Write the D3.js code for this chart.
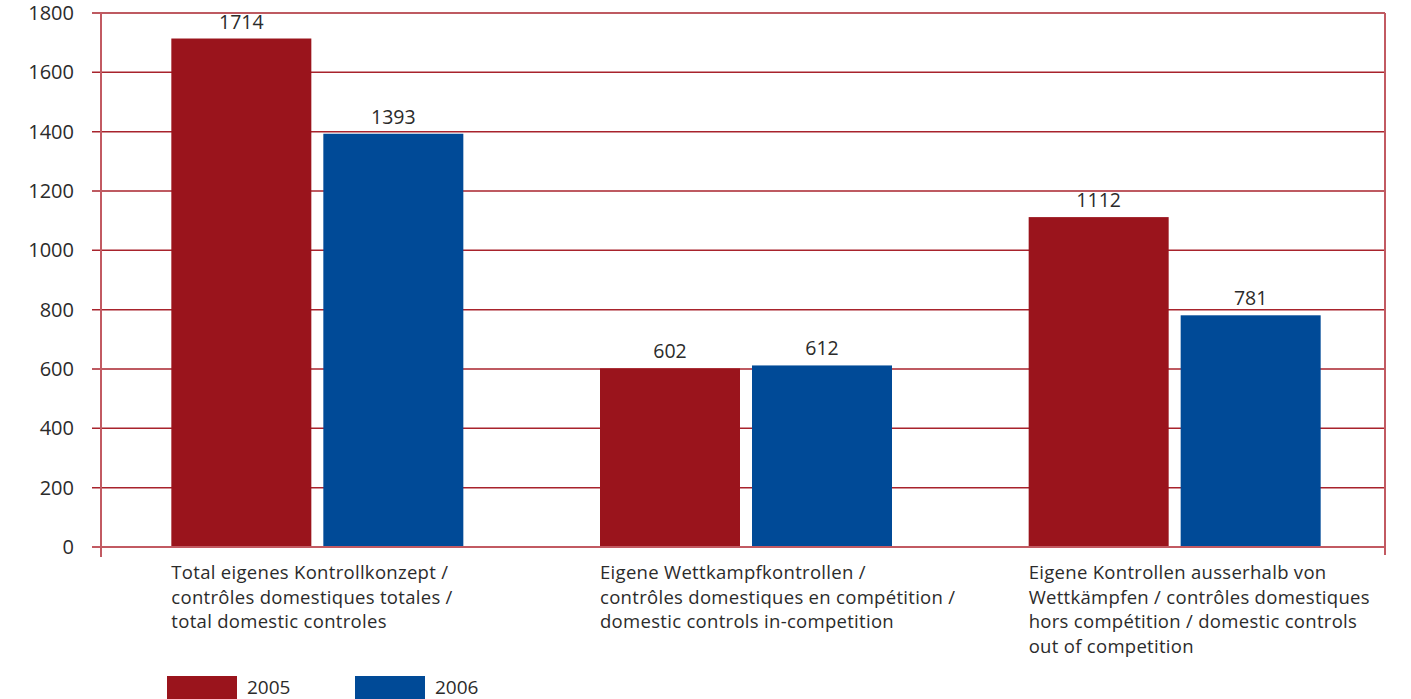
<!DOCTYPE html>
<html>
<head>
<meta charset="utf-8">
<script src="https://cdn.jsdelivr.net/npm/d3@7/dist/d3.min.js"></script>
<style>
  html, body { margin: 0; padding: 0; background: #fff; }
  svg { display: block; }
  text { font-family: "Open Sans", "DejaVu Sans", sans-serif; fill: #2b2b2b; }
</style>
</head>
<body>
<svg id="chart" width="1411" height="699"></svg>
<script>
// Domestic doping controls, 2005 vs 2006
const categories = [
  ["Total eigenes Kontrollkonzept /", "contrôles domestiques totales /", "total domestic controles"],
  ["Eigene Wettkampfkontrollen /", "contrôles domestiques en compétition /", "domestic controls in-competition"],
  ["Eigene Kontrollen ausserhalb von", "Wettkämpfen / contrôles domestiques", "hors compétition / domestic controls", "out of competition"]
];
const years = ["2005", "2006"];
const values2005 = [1714, 602, 1112];
const values2006 = [1393, 612, 781];
const yTicks = [0, 200, 400, 600, 800, 1000, 1200, 1400, 1600, 1800];

const colors = { "2005": "#9a141c", "2006": "#004a97" };
const gridColor = "#a8232c";
const frameColor = "#c25a62";

const svg = d3.select("#chart");
const frameLeft = 101, frameRight = 1385;
const yTop = 13, yBottom = 547;

const x = d3.scaleBand().domain(d3.range(categories.length)).range([103, 1389]);
const y = d3.scaleLinear().domain([0, 1800]).range([yBottom, yTop]);

const barW = 140, barGap = 12;
const series = [values2005, values2006];

// horizontal gridlines, starting with a short tick left of the axis
svg.append("g").selectAll("line").data(yTicks).join("line")
  .attr("x1", 92).attr("x2", frameRight)
  .attr("y1", d => y(d)).attr("y2", d => y(d))
  .attr("stroke", gridColor).attr("stroke-width", 1.5);

const axis = svg.append("g").attr("transform", `translate(${frameLeft},0)`)
  .call(d3.axisLeft(y).tickValues(yTicks).tickSize(0).tickPadding(27).tickFormat(d3.format("d")));
axis.select(".domain").remove();
axis.selectAll("text").attr("font-size", 20).attr("fill", "#2b2b2b")
  .style("font-family", '"Open Sans", "DejaVu Sans", sans-serif');

// bars with value labels
categories.forEach((c, i) => {
  const cx = x(i) + x.bandwidth() / 2;
  series.forEach((vals, s) => {
    const bx = s === 0 ? cx - barGap / 2 - barW : cx + barGap / 2;
    svg.append("rect")
      .attr("x", bx).attr("width", barW)
      .attr("y", y(vals[i])).attr("height", y(0) - y(vals[i]))
      .attr("fill", colors[years[s]]);
    svg.append("text")
      .attr("x", bx + barW / 2).attr("y", y(vals[i]) - 10)
      .attr("text-anchor", "middle").attr("font-size", 19.5)
      .text(vals[i]);
  });
  // category label, left-aligned under the first bar
  const lx = cx - barGap / 2 - barW;
  const t = svg.append("text").attr("x", lx).attr("y", 579).attr("font-size", 18.5)
    .attr("letter-spacing", 0.3);
  c.forEach((line, k) => {
    t.append("tspan").attr("x", lx).attr("dy", k === 0 ? 0 : 24.6).text(line);
  });
});

// frame: left axis, right border and baseline
svg.append("line").attr("x1", frameLeft).attr("x2", frameLeft).attr("y1", yTop).attr("y2", 557)
  .attr("stroke", frameColor).attr("stroke-width", 2);
svg.append("line").attr("x1", frameRight).attr("x2", frameRight).attr("y1", yTop).attr("y2", 555)
  .attr("stroke", frameColor).attr("stroke-width", 2);
svg.append("line").attr("x1", 92).attr("x2", frameRight).attr("y1", y(0)).attr("y2", y(0))
  .attr("stroke", frameColor).attr("stroke-width", 2);

// legend
const legend = svg.append("g");
years.forEach((yr, i) => {
  const lx = 167 + i * 188;
  legend.append("rect").attr("x", lx).attr("y", 676).attr("width", 70).attr("height", 24).attr("fill", colors[yr]);
  legend.append("text").attr("x", lx + 80).attr("y", 694).attr("font-size", 19).text(yr);
});
</script>
</body>
</html>
